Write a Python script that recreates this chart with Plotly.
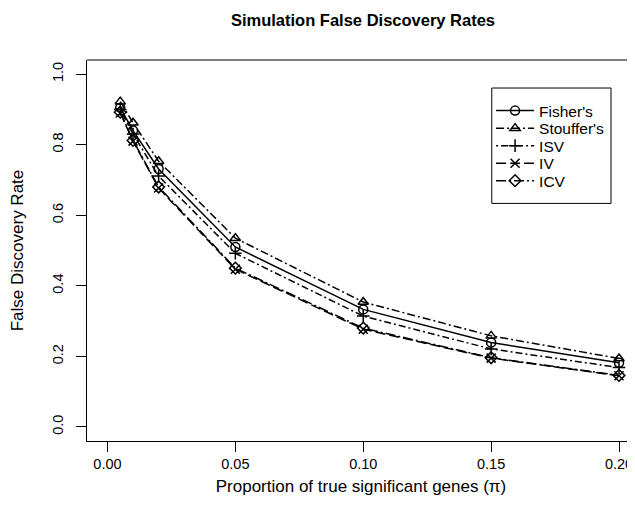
import plotly.graph_objects as go

x_vals = [0.005, 0.01, 0.02, 0.05, 0.10, 0.15, 0.20]
fisher = [0.905, 0.840, 0.731, 0.510, 0.333, 0.239, 0.182]
stouffer = [0.922, 0.862, 0.753, 0.535, 0.354, 0.258, 0.194]
isv = [0.900, 0.830, 0.711, 0.492, 0.314, 0.221, 0.168]
iv = [0.890, 0.810, 0.677, 0.447, 0.277, 0.195, 0.145]
icv = [0.892, 0.812, 0.680, 0.450, 0.280, 0.196, 0.146]

series = [
    ("Fisher's", fisher, "circle-open", "solid"),
    ("Stouffer's", stouffer, "triangle-up-open", "8px,3px,2px,3px"),
    ("ISV", isv, "cross-thin", "2px,3px,7px,3px"),
    ("IV", iv, "x-thin", "10px,4px"),
    ("ICV", icv, "diamond-open", "10px,3px,2px,3px"),
]

FONT = "Liberation Sans, Arial, Helvetica, sans-serif"
# page has an 8px body margin, so the figure is 8px smaller than the window
OFF = 8
W, H = 635 - OFF, 518 - OFF
L, R, T, B = 86.7 - OFF, 0, 60 - OFF, 518 - 440.7
PH = H - T - B
PW = W - L - R

def px_x(p):  # page x -> paper fraction
    return (p - OFF - L) / PW

def px_y(p):  # page y -> paper fraction
    return (H - B - (p - OFF)) / PH

fig = go.Figure()
legend_rows_px = [111, 128.5, 146, 163.5, 181]
legend_layouts = {}
for i, (name, ys, sym, dash) in enumerate(series):
    lname = "legend" if i == 0 else f"legend{i + 1}"
    fig.add_trace(go.Scatter(
        x=x_vals, y=ys, name=name, mode="lines+markers", legend=lname,
        line=dict(color="black", width=1.5, dash=dash),
        marker=dict(symbol=sym, size=9, color="black",
                    line=dict(color="black", width=1.5)),
    ))
    legend_layouts[lname] = dict(
        x=px_x(491), y=px_y(legend_rows_px[i]), itemwidth=38,
        xanchor="left", yanchor="middle", bgcolor="rgba(0,0,0,0)", borderwidth=0,
        font=dict(size=15.5, family=FONT, color="black"))

fig.update_layout(
    width=W, height=H,
    margin=dict(l=L, r=R, t=T, b=B, pad=0, autoexpand=False),
    paper_bgcolor="white", plot_bgcolor="white",
    font=dict(family=FONT, size=14.5, color="black"),
    title=dict(text="<b>Simulation False Discovery Rates</b>", x=(363 - OFF) / W,
               xanchor="center", y=1 - (20 - OFF) / H, yanchor="middle",
               font=dict(size=16.5, family=FONT)),
    showlegend=True,
    xaxis=dict(range=[-0.008, 0.20625], tickvals=[0, 0.05, 0.10, 0.15, 0.20],
               ticktext=["0.00", "0.05", "0.10", "0.15", "0.20"], automargin=False,
               showgrid=False, zeroline=False, showline=True, linecolor="black",
               linewidth=1, ticks="outside", ticklen=10, tickcolor="black",
               title=dict(text="Proportion of true significant genes (π)", standoff=8)),
    yaxis=dict(range=[-0.04, 1.04], tickvals=[0, 0.2, 0.4, 0.6, 0.8, 1.0],
               ticktext=["0.0", "0.2", "0.4", "0.6", "0.8", "1.0"], tickangle=-90,
               automargin=False, ticklabelstandoff=7,
               showgrid=False, zeroline=False, showline=True, linecolor="black",
               linewidth=1, ticks="outside", ticklen=10, tickcolor="black",
               title=dict(text="False Discovery Rate", standoff=22)),
    **legend_layouts,
)
# top border of plot box
fig.add_shape(type="line", xref="paper", yref="paper", x0=0, x1=1, y0=1, y1=1,
              line=dict(color="black", width=1))
# legend box
fig.add_shape(type="rect", xref="paper", yref="paper",
              x0=px_x(491.7), x1=px_x(611), y0=px_y(203.3), y1=px_y(88),
              line=dict(color="black", width=1), fillcolor="white", layer="below")
fig.write_html("out.html")
